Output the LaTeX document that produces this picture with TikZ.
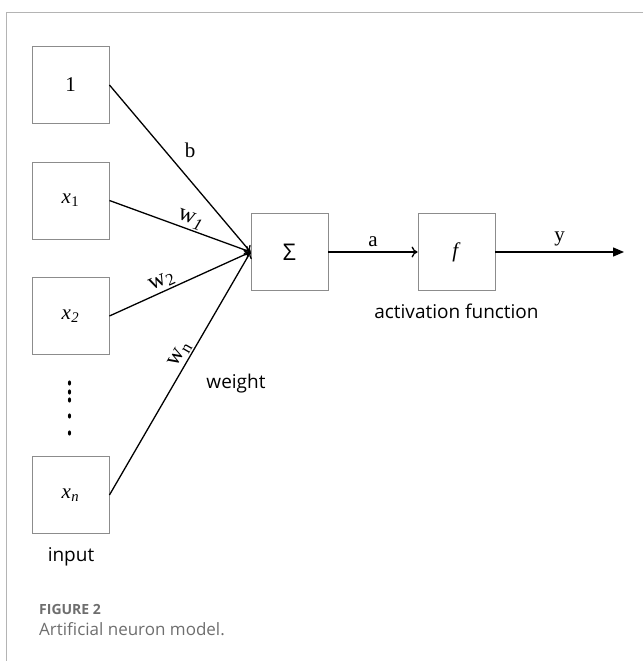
\documentclass[tikz,border=0pt]{standalone}
\usepackage{fontspec}
\setmainfont{Liberation Serif}
\newfontfamily\labelsans{Open Sans}
\usetikzlibrary{arrows.meta}
\definecolor{boxgray}{HTML}{8C8C8C}
\definecolor{framegray}{HTML}{B4B4B4}
\definecolor{captiongray}{HTML}{6E6E6E}
\newcommand{\insym}[2]{\textit{#1}\kern0.5pt\textsubscript{#2}}
\tikzset{
  unit/.style={draw=boxgray, line width=0.9pt, minimum width=77pt, minimum height=77pt, inner sep=0pt, font=\fontsize{21}{23}\selectfont},
  wire/.style={draw=black, line width=1.3pt},
  inlink/.style={wire, -{To[length=6pt,width=9pt]}},
  wlabel/.style={sloped, anchor=south, inner sep=1.5pt, font=\fontsize{24}{26}\selectfont},
  serlabel/.style={inner sep=0pt, font=\fontsize{21}{23}\selectfont},
  sanslabel/.style={inner sep=0pt, font=\labelsans\fontsize{19}{22}\selectfont},
  dotmark/.style={fill=black},
}
\begin{document}
\begin{tikzpicture}[x=1pt, y=-1pt]
\useasboundingbox (0,0) rectangle (643,661);
% card frame (top and left edges)
\draw[framegray, line width=1.6pt] (643,12.5) -- (6.5,12.5) -- (6.5,661);

% input units
\node[unit] (one) at (70.5,85) {1};
\node[unit] (x1) at (70.5,200.5) {\insym{x}{1}};
\node[unit] (x2) at (70.5,316) {\insym{x}{\textit{2}}};
\node[unit] (xn) at (70.5,495) {\insym{x}{\textit{n}}};
% vertical ellipsis between x2 and xn
\foreach \yy in {383,392,400,416,433}
  \fill[dotmark] (69.5,\yy) ellipse (1.6pt and 2.6pt);

% summation and activation units
\node[unit, font=\labelsans\fontsize{23}{26}\selectfont] (sum) at (289.5,252) {Σ};
\node[unit] (act) at (456.5,252) {\textit{f}};
\coordinate (out) at (624,252);

% weighted inputs converging on the summation unit
\draw[inlink] (one.east) -- (sum.west);
\draw[inlink] (x1.east) -- node[wlabel, pos=0.55] {w\textsubscript{\textit{1}}} (sum.west);
\draw[inlink] (x2.east) -- node[wlabel, pos=0.4] {w\textsubscript{2}} (sum.west);
\draw[inlink] (xn.east) -- node[wlabel, pos=0.56] {w\textsubscript{n}} (sum.west);
\node[serlabel] (blab) at (190,150) {b};

% summation to activation, then output
\draw[wire, -{To[length=6pt,width=11pt]}] (sum.east) -- node[serlabel, above=5pt] (alab) {a} (act.west);
\draw[wire, -{Triangle[length=11pt,width=9pt]}] (act.east) -- node[serlabel, above=5pt, pos=0.5] (ylab) {y} (out);

% descriptive labels
\node[sanslabel] (weight) at (236,384) {weight};
\node[sanslabel] (actlab) at (456.5,311) {activation function};
\node[sanslabel] (inlab) at (71,557) {input};

% caption
\node[anchor=west, inner sep=0pt, text=captiongray, font=\labelsans\bfseries\fontsize{14}{16}\selectfont] (fig) at (39,609) {FIGURE 2};
\node[anchor=west, inner sep=0pt, text=captiongray, font=\labelsans\fontsize{17}{19}\selectfont] (cap) at (39,629) {Artificial neuron model.};
\end{tikzpicture}
\end{document}
